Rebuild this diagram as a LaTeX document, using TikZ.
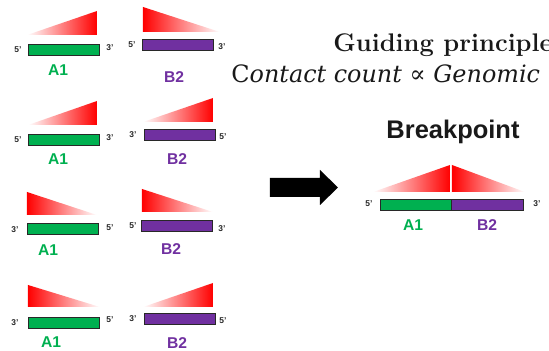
\documentclass[tikz,border=0pt]{standalone}
\usepackage{fontspec}
\setsansfont{Liberation Sans}
\newfontfamily\lawfont{DejaVu Serif}
\definecolor{agreen}{RGB}{0,176,80}
\definecolor{bpurple}{RGB}{112,48,160}
\definecolor{labgray}{RGB}{40,40,40}

\tikzset{
  bar/.style={draw=labgray, line width=0.5pt, minimum width=1.42cm,
    minimum height=0.22cm, inner sep=0pt, anchor=center},
  abar/.style={bar, fill=agreen},
  bbar/.style={bar, fill=bpurple},
  endlab/.style={font=\sffamily\bfseries\fontsize{4.8}{5}\selectfont,
    text=labgray, inner sep=0pt},
  seglab/.style={font=\sffamily\bfseries\fontsize{8.9}{10}\selectfont,
    inner sep=0pt},
  alab/.style={seglab, text=agreen},
  blab/.style={seglab, text=bpurple},
  rampup/.style={left color=white, right color=red},
  rampdown/.style={left color=red, right color=white},
}

\begin{document}
\begin{tikzpicture}[x=0.02cm, y=-0.02cm]
  \useasboundingbox (0,0) rectangle (549,351);
  \clip (0,0) rectangle (549,351);

  % ---- row 1: A1 5'->3', B2 5'->3'
  \shade[rampup]   (27,35) -- (97,35) -- (97,11) -- cycle;
  \shade[rampdown] (143,7) -- (143,32) -- (220,32) -- cycle;
  \node[abar] (a1r1) at (63.5,49.5) {};
  \node[bbar] (b2r1) at (177.5,44.5) {};
  \node[endlab] (a1r1l) at (18,50) {5'};
  \node[endlab] (a1r1r) at (110,48) {3'};
  \node[endlab] (b2r1l) at (132,45) {5'};
  \node[endlab] (b2r1r) at (222,47) {3'};
  \node[alab] (a1r1n) at (58,70.5) {A1};
  \node[blab] (b2r1n) at (174,77) {B2};

  % ---- row 2: A1 5'->3', B2 3'->5'
  \shade[rampup] (28,125) -- (97,125) -- (97,101) -- cycle;
  \shade[rampup] (143,122) -- (213,122) -- (213,98) -- cycle;
  \node[abar] (a1r2) at (63.5,139.5) {};
  \node[bbar] (b2r2) at (179.5,134.5) {};
  \node[endlab] (a1r2l) at (18,140) {5'};
  \node[endlab] (a1r2r) at (110,138) {3'};
  \node[endlab] (b2r2l) at (133,135) {3'};
  \node[endlab] (b2r2r) at (223,137) {5'};
  \node[alab] (a1r2n) at (58,159) {A1};
  \node[blab] (b2r2n) at (177,159) {B2};

  % ---- row 3: A1 3'->5', B2 5'->3'
  \shade[rampdown] (27,192) -- (27,215) -- (97,215) -- cycle;
  \shade[rampdown] (142,189) -- (142,212) -- (213,212) -- cycle;
  \node[abar] (a1r3) at (62.5,229) {};
  \node[bbar] (b2r3) at (177,226) {};
  \node[endlab] (a1r3l) at (15,230) {3'};
  \node[endlab] (a1r3r) at (110,228) {5'};
  \node[endlab] (b2r3l) at (133,226) {5'};
  \node[endlab] (b2r3r) at (222,229) {3'};
  \node[alab] (a1r3n) at (48,250.5) {A1};
  \node[blab] (b2r3n) at (171,249.5) {B2};

  % ---- row 4: A1 3'->5', B2 3'->5'
  \shade[rampdown] (28,285) -- (28,307) -- (100,307) -- cycle;
  \shade[rampup]   (143,307) -- (213,307) -- (213,283) -- cycle;
  \node[abar] (a1r4) at (64,323) {};
  \node[bbar] (b2r4) at (180,319) {};
  \node[endlab] (a1r4l) at (15,323) {3'};
  \node[endlab] (a1r4r) at (110,320) {5'};
  \node[endlab] (b2r4l) at (133,319) {3'};
  \node[endlab] (b2r4r) at (223,321) {5'};
  \node[alab] (a1r4n) at (51,342.5) {A1};
  \node[blab] (b2r4n) at (177,343.5) {B2};

  % ---- block arrow
  \fill[black] (270,178) -- (320,178) -- (320,170) -- (338,187.5)
    -- (320,205) -- (320,197) -- (270,197) -- cycle;

  % ---- fused breakpoint
  \node[anchor=base, inner sep=0pt, text=black!90,
    font=\sffamily\bfseries\fontsize{14.5}{16}\selectfont] (bp) at (453,139) {Breakpoint};
  \shade[rampup]   (373,192) -- (450,192) -- (450,165) -- cycle;
  \shade[rampdown] (452,165) -- (452,192) -- (525,192) -- cycle;
  \node[abar, minimum width=1.42cm] (fa) at (415.5,205) {};
  \node[bbar, minimum width=1.44cm] (fb) at (487,205) {};
  \node[endlab] (fl) at (369,204) {5'};
  \node[endlab] (fr) at (537,204) {3'};
  \node[alab] (fan) at (413,225) {A1};
  \node[blab] (fbn) at (487,225) {B2};

  % ---- guiding principle
  \node[anchor=base west, inner sep=0pt, text=black!90,
    font=\bfseries\fontsize{14.5}{16}\selectfont] (gp) at (333,52) {Guiding principle};
  \node[anchor=base west, inner sep=0pt, text=black!90,
    font=\lawfont\fontsize{13.6}{15}\selectfont] (law) at (231,83)
    {C\textit{ontact count} ∝ \textit{Genomic}};
\end{tikzpicture}
\end{document}
